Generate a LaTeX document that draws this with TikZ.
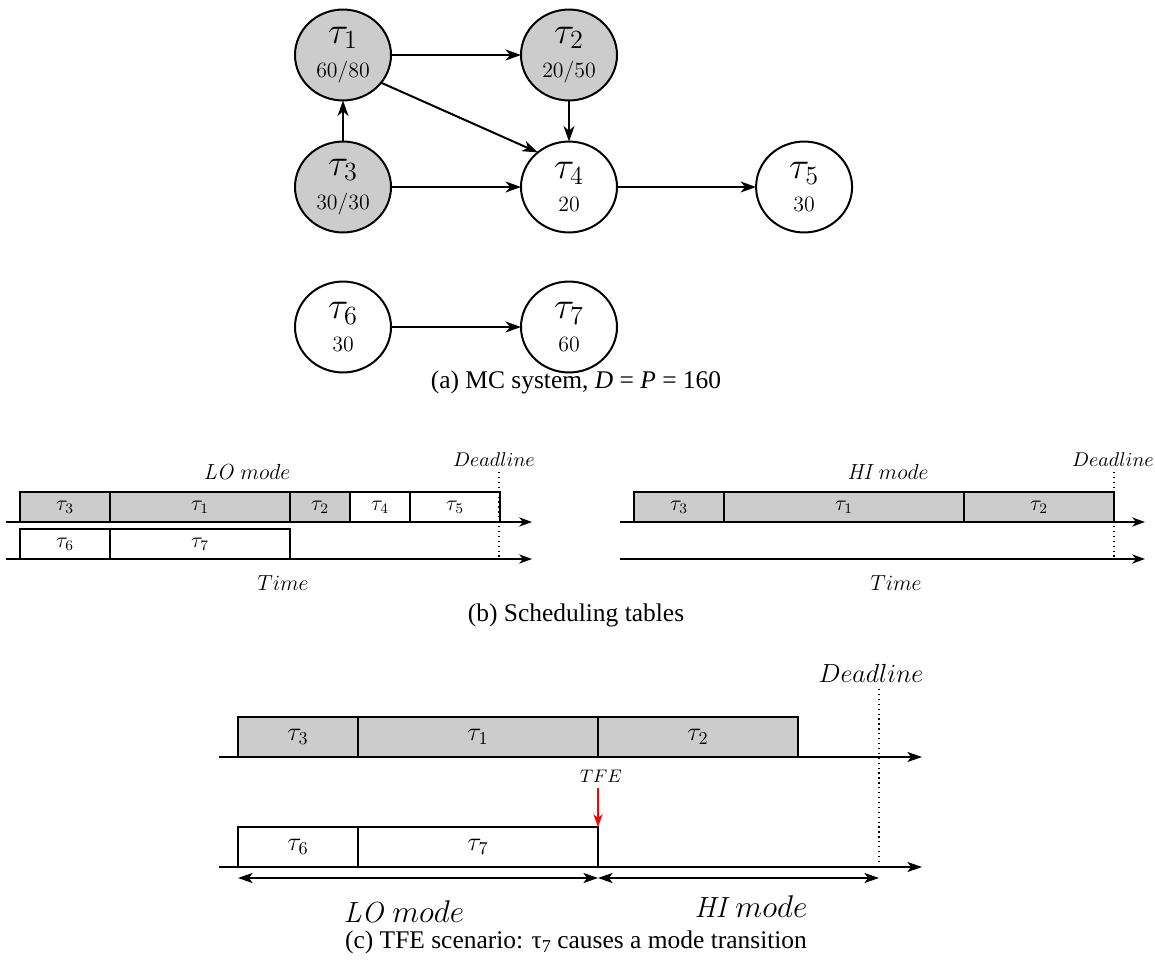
\documentclass[tikz,border=0pt]{standalone}
\usepackage{amsmath}
\usepackage{fontspec}
\newfontfamily\capfont{Liberation Serif}
\usepackage{tikz}
\usetikzlibrary{arrows.meta,shapes,positioning}
\definecolor{hicrit}{RGB}{204,204,204}

\begin{document}
\begin{tikzpicture}[x=0.55pt,y=-0.55pt,>={Stealth[length=7pt,width=5pt,inset=2pt]},line width=1pt,outer sep=0pt,
    task/.style={ellipse,draw,line width=1.1pt,minimum width=52.8pt,minimum height=50pt,inner sep=0pt,align=center},
    hitask/.style={task,fill=hicrit},
    slotb/.style={draw,minimum width=#1*1.65pt,minimum height=16.5pt,inner sep=0pt,font=\large},
    slotc/.style={draw,minimum width=#1*2.2pt,minimum height=22pt,inner sep=0pt,font=\Large},
    deadline/.style={line width=0.7pt,dotted},
    caption/.style={font=\capfont\fontsize{14}{17}\selectfont}]
    \useasboundingbox (0,0) rectangle (1155,960);

    % (a) task graph
    \begin{scope}[on grid]
        \node[hitask]                      (t1) at (343,55) {\huge$\tau_1$\\[6pt]\large 60/80};
        \node[hitask] [right=124.3pt of t1] (t2) {\huge$\tau_2$\\[6pt]\large 20/50};
        \node[hitask] [below=72.6pt of t1]  (t3) {\huge$\tau_3$\\[6pt]\large 30/30};
        \node[task]   [below=72.6pt of t2]  (t4) {\huge$\tau_4$\\[6pt]\large 20};
        \node[task]   [right=129.3pt of t4] (t5) {\huge$\tau_5$\\[6pt]\large 30};
        \node[task]   [below=77pt of t3]    (t6) {\huge$\tau_6$\\[6pt]\large 30};
        \node[task]   [right=124.3pt of t6] (t7) {\huge$\tau_7$\\[6pt]\large 60};
    \end{scope}

    \path[->,line width=1.1pt,>={Stealth[length=8.5pt,width=6pt,inset=2.5pt]}]
              (t1)     edge (t2)
              (t1.-36) edge (t4.132)
              (t2)     edge (t4)
              (t3)     edge (t1)
              (t3)     edge (t4)
              (t4)     edge (t5)
              (t6)     edge (t7);

    \node[caption] (capa) at (576,382) {(a) MC system, \textit{D} = \textit{P} = 160};

    % (b) LO table
    \coordinate (loax1) at (6,522);   \coordinate (loax1e) at (532,522);
    \coordinate (loax2) at (6,559);   \coordinate (loax2e) at (532,559);
    \node[slotb=30,fill=hicrit,anchor=south west] (lo3) at (20,522) {$\tau_3$};
    \node[slotb=60,fill=hicrit,right=0pt of lo3] (lo1) {$\tau_1$};
    \node[slotb=20,fill=hicrit,right=0pt of lo1] (lo2) {$\tau_2$};
    \node[slotb=20,right=0pt of lo2] (lo4) {$\tau_4$};
    \node[slotb=30,right=0pt of lo4] (lo5) {$\tau_5$};
    \node[slotb=30,anchor=south west] (lo6) at (20,559) {$\tau_6$};
    \node[slotb=60,right=0pt of lo6] (lo7) {$\tau_7$};
    \draw[->] (loax1) -- (loax1e);
    \draw[->] (loax2) -- (loax2e);
    \coordinate (lodl) at (499,472);
    \draw[deadline] (lodl) -- (lodl |- loax2);
    \node[font=\fontsize{11}{13}\selectfont] (lodltext) at (494,460) {$Deadline$};
    \node[font=\large] (lomode) at (247,472) {$\mathit{LO}\ mode$};
    \node[font=\large] (lotime) at (283,583) {$Time$};

    % (b) HI table
    \coordinate (hiax1) at (620,522); \coordinate (hiax1e) at (1145,522);
    \coordinate (hiax2) at (620,559); \coordinate (hiax2e) at (1145,559);
    \node[slotb=30,fill=hicrit,anchor=south west] (hi3) at (634,522) {$\tau_3$};
    \node[slotb=80,fill=hicrit,right=0pt of hi3] (hi1) {$\tau_1$};
    \node[slotb=50,fill=hicrit,right=0pt of hi1] (hi2) {$\tau_2$};
    \draw[->] (hiax1) -- (hiax1e);
    \draw[->] (hiax2) -- (hiax2e);
    \coordinate (hidl) at (1114,472);
    \draw[deadline] (hidl) -- (hidl |- hiax2);
    \node[font=\fontsize{11}{13}\selectfont] (hidltext) at (1113,460) {$Deadline$};
    \node[font=\large] (himode) at (888,472) {$\mathit{HI}\ mode$};
    \node[font=\large] (hitime) at (896,583) {$Time$};

    \node[caption] (capb) at (576,615) {(b) Scheduling tables};

    % (c) TFE scenario
    \coordinate (cax1) at (219,757);  \coordinate (cax1e) at (922,757);
    \coordinate (cax2) at (219,867);  \coordinate (cax2e) at (922,867);
    \node[slotc=30,fill=hicrit,anchor=south west] (c3) at (238,757) {$\tau_3$};
    \node[slotc=60,fill=hicrit,right=0pt of c3] (c1) {$\tau_1$};
    \node[slotc=50,fill=hicrit,right=0pt of c1] (c2) {$\tau_2$};
    \node[slotc=30,anchor=south west] (c6) at (238,867) {$\tau_6$};
    \node[slotc=60,right=0pt of c6] (c7) {$\tau_7$};
    \draw[->,>={Stealth[length=8pt,width=5.5pt,inset=2pt]}] (cax1) -- (cax1e);
    \draw[->,>={Stealth[length=8pt,width=5.5pt,inset=2pt]}] (cax2) -- (cax2e);
    \coordinate (cdl) at (879,689);
    \draw[deadline] (cdl) -- (cdl |- cax2);
    \node[font=\Large] (cdltext) at (871,673) {$Deadline$};

    \coordinate (tfetop) at ([yshift=21.5pt]c7.north east);
    \node (tfe) at (601,776) {$TFE$};
    \draw[->,red] (tfetop) -- (c7.north east);

    \coordinate (lostart) at (238,878);
    \coordinate (switch) at (c7.south east |- lostart);
    \coordinate (hiend) at (879,878);
    \draw[<->,>={Stealth[length=8pt,width=5.5pt,inset=2pt]}] (lostart) -- (switch);
    \draw[<->,>={Stealth[length=8pt,width=5.5pt,inset=2pt]}] (switch) -- (hiend);
    \node[font=\fontsize{16}{19}\selectfont] (clo) at (404,912) {$\mathit{LO}\ mode$};
    \node[font=\fontsize{16}{19}\selectfont] (chi) at (751,907) {$\mathit{HI}\ mode$};

    \node[caption] (capc) at (576,942) {(c) TFE scenario: τ\raisebox{-0.4ex}{\fontsize{10}{10}\selectfont 7} causes a mode transition};
\end{tikzpicture}
\end{document}
